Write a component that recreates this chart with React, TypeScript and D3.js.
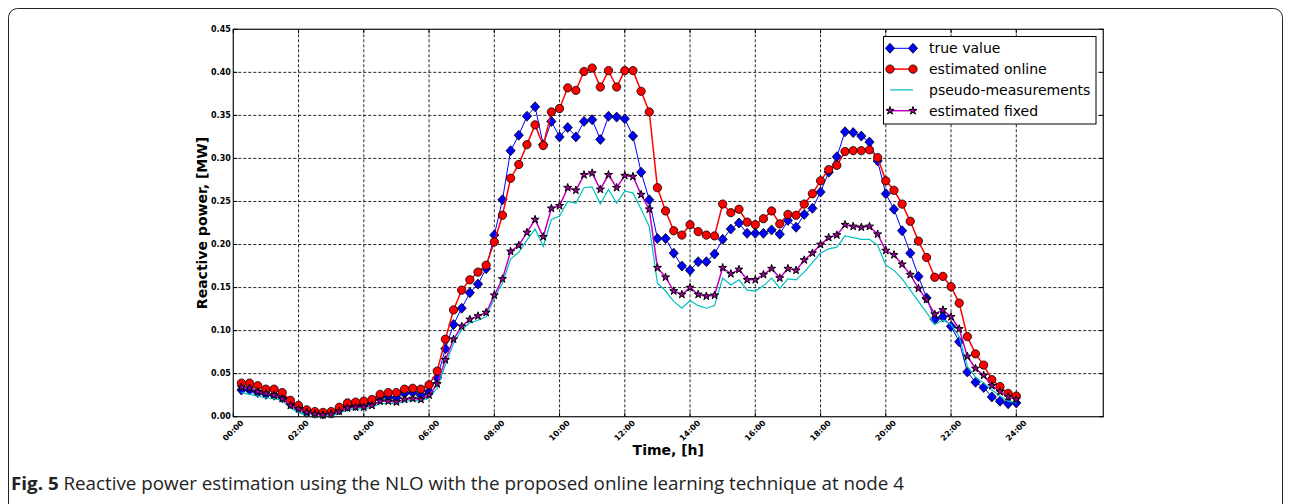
import React from "react";
import * as d3 from "d3";

// reactive power at node 4, one sample every 15 min from 00:15 to 24:00
const trueValue = [
  0.031, 0.031, 0.028, 0.026, 0.025, 0.022, 0.015, 0.010, 0.005, 0.004, 0.003, 0.004,
  0.008, 0.012, 0.013, 0.014, 0.016, 0.023, 0.023, 0.022, 0.027, 0.028, 0.025, 0.029,
  0.045, 0.079, 0.107, 0.126, 0.144, 0.154, 0.172, 0.211, 0.252, 0.309, 0.327, 0.349,
  0.360, 0.316, 0.343, 0.325, 0.336, 0.325, 0.343, 0.345, 0.322, 0.349, 0.348, 0.346,
  0.326, 0.284, 0.252, 0.207, 0.207, 0.190, 0.175, 0.170, 0.180, 0.180, 0.189, 0.206,
  0.218, 0.225, 0.213, 0.213, 0.213, 0.217, 0.212, 0.228, 0.220, 0.235, 0.242, 0.261,
  0.284, 0.302, 0.331, 0.330, 0.326, 0.319, 0.297, 0.259, 0.241, 0.216, 0.190, 0.163,
  0.138, 0.113, 0.116, 0.105, 0.087, 0.052, 0.040, 0.034, 0.023, 0.018, 0.015, 0.016,
];
const estimatedOnline = [
  0.039, 0.039, 0.036, 0.032, 0.032, 0.028, 0.019, 0.013, 0.008, 0.006, 0.005, 0.006,
  0.011, 0.016, 0.017, 0.018, 0.020, 0.026, 0.028, 0.028, 0.032, 0.033, 0.032, 0.037,
  0.053, 0.090, 0.124, 0.147, 0.159, 0.168, 0.176, 0.203, 0.234, 0.277, 0.293, 0.316,
  0.339, 0.315, 0.354, 0.358, 0.382, 0.379, 0.401, 0.405, 0.383, 0.402, 0.383, 0.402,
  0.402, 0.378, 0.354, 0.266, 0.239, 0.216, 0.211, 0.223, 0.215, 0.211, 0.210, 0.247,
  0.237, 0.241, 0.226, 0.223, 0.230, 0.239, 0.224, 0.235, 0.234, 0.247, 0.259, 0.274,
  0.287, 0.292, 0.308, 0.309, 0.309, 0.310, 0.301, 0.274, 0.263, 0.247, 0.227, 0.204,
  0.185, 0.162, 0.163, 0.151, 0.132, 0.093, 0.073, 0.060, 0.043, 0.035, 0.027, 0.024,
];
const pseudoMeasurements = [
  0.028, 0.026, 0.024, 0.022, 0.021, 0.019, 0.010, 0.005, 0.001, 0.000, 0.000, 0.001,
  0.004, 0.008, 0.009, 0.009, 0.011, 0.015, 0.016, 0.015, 0.018, 0.019, 0.018, 0.022,
  0.033, 0.060, 0.085, 0.101, 0.109, 0.112, 0.116, 0.138, 0.155, 0.183, 0.191, 0.205,
  0.218, 0.198, 0.229, 0.233, 0.250, 0.248, 0.266, 0.267, 0.247, 0.264, 0.248, 0.262,
  0.260, 0.241, 0.221, 0.155, 0.146, 0.134, 0.126, 0.135, 0.129, 0.126, 0.129, 0.161,
  0.153, 0.159, 0.147, 0.146, 0.152, 0.161, 0.149, 0.160, 0.159, 0.168, 0.179, 0.190,
  0.195, 0.197, 0.210, 0.208, 0.206, 0.206, 0.199, 0.176, 0.170, 0.160, 0.147, 0.134,
  0.121, 0.107, 0.112, 0.107, 0.093, 0.058, 0.046, 0.039, 0.031, 0.024, 0.018, 0.016,
];
const estimatedFixed = [
  0.034, 0.033, 0.029, 0.027, 0.025, 0.021, 0.013, 0.009, 0.005, 0.003, 0.002, 0.003,
  0.006, 0.010, 0.011, 0.011, 0.013, 0.018, 0.018, 0.017, 0.020, 0.021, 0.020, 0.025,
  0.038, 0.066, 0.090, 0.105, 0.113, 0.117, 0.121, 0.141, 0.160, 0.192, 0.199, 0.214,
  0.229, 0.209, 0.242, 0.245, 0.266, 0.263, 0.281, 0.283, 0.264, 0.281, 0.266, 0.280,
  0.279, 0.258, 0.241, 0.173, 0.162, 0.146, 0.142, 0.150, 0.142, 0.140, 0.141, 0.173,
  0.166, 0.171, 0.159, 0.159, 0.165, 0.172, 0.161, 0.172, 0.170, 0.182, 0.190, 0.200,
  0.208, 0.211, 0.223, 0.221, 0.220, 0.221, 0.212, 0.193, 0.188, 0.177, 0.165, 0.149,
  0.136, 0.119, 0.124, 0.116, 0.102, 0.070, 0.056, 0.048, 0.036, 0.029, 0.023, 0.020,
];

const xTickHours = [0, 2, 4, 6, 8, 10, 12, 14, 16, 18, 20, 22, 24];
const yTicks = [0, 0.05, 0.1, 0.15, 0.2, 0.25, 0.3, 0.35, 0.4, 0.45];

const W = 1291;
const H = 504;
const plot = { left: 233.3, right: 1103.3, top: 29.3, bottom: 416.7 };

const x = d3.scaleLinear().domain([0, 1600 / 60]).range([plot.left, plot.right]);
const y = d3.scaleLinear().domain([0, 0.45]).range([plot.bottom, plot.top]);
const hourOf = (i: number) => (i + 1) * 0.25;

const tickFont = "'DejaVu Sans', sans-serif";

const diamond = "M0,-5L4.6,0L0,5L-4.6,0Z";
const star = d3.symbol().type(d3.symbolStar).size(20)() as string;
const circle = d3.symbol().type(d3.symbolCircle).size(54)() as string;

type Series = { label: string; values: number[]; color: string; width: number; marker: string | null; fill: string; edge: number };

const series: Series[] = [
  { label: "true value", values: trueValue, color: "#0000ff", width: 1, marker: diamond, fill: "#0000ff", edge: 0.8 },
  { label: "estimated online", values: estimatedOnline, color: "#ff0000", width: 1.5, marker: circle, fill: "#ff0000", edge: 0.8 },
  { label: "pseudo-measurements", values: pseudoMeasurements, color: "#00bfbf", width: 1.2, marker: null, fill: "none", edge: 0 },
  { label: "estimated fixed", values: estimatedFixed, color: "#bf00bf", width: 1.5, marker: star, fill: "#a000a0", edge: 1 },
];

const line = d3.line<number>().x((_, i) => x(hourOf(i))).y((d) => y(d));

const pad = (h: number) => `${String(h).padStart(2, "0")}:00`;

export default function App() {
  return (
    <svg width={W} height={H} style={{ position: "absolute", left: 0, top: 0, background: "#fff" }}>
      <rect x={8.5} y={8.5} width={1274} height={540} rx={9} fill="#fff" stroke="#222" strokeWidth={1} />

      {/* grid */}
      <g stroke="#000" strokeWidth={1} strokeDasharray="3,2" opacity={0.85}>
        {yTicks.slice(1, -1).map((t) => (
          <line key={"gy" + t} x1={plot.left} x2={plot.right} y1={y(t)} y2={y(t)} />
        ))}
        {xTickHours.slice(1).map((h) => (
          <line key={"gx" + h} x1={x(h)} x2={x(h)} y1={plot.top} y2={plot.bottom} />
        ))}
      </g>

      {/* series */}
      {series.map((s) => (
        <g key={s.label}>
          <path d={line(s.values) || ""} fill="none" stroke={s.color} strokeWidth={s.width} />
          {s.marker &&
            s.values.map((v, i) => (
              <path
                key={i}
                d={s.marker!}
                transform={`translate(${x(hourOf(i))},${y(v)})`}
                fill={s.fill}
                stroke="#000"
                strokeWidth={s.edge}
              />
            ))}
        </g>
      ))}

      {/* frame and ticks */}
      <rect
        x={plot.left}
        y={plot.top}
        width={plot.right - plot.left}
        height={plot.bottom - plot.top}
        fill="none"
        stroke="#222"
        strokeWidth={1.3}
      />
      <g stroke="#000" strokeWidth={1}>
        {yTicks.map((t) => (
          <g key={"ty" + t}>
            <line x1={plot.left} x2={plot.left + 4} y1={y(t)} y2={y(t)} />
            <line x1={plot.right} x2={plot.right - 4} y1={y(t)} y2={y(t)} />
          </g>
        ))}
        {xTickHours.map((h) => (
          <g key={"tx" + h}>
            <line x1={x(h)} x2={x(h)} y1={plot.bottom} y2={plot.bottom - 4} />
            <line x1={x(h)} x2={x(h)} y1={plot.top} y2={plot.top + 4} />
          </g>
        ))}
      </g>
      <g fontFamily={tickFont} fontWeight="bold" fontSize={8} fill="#000">
        {yTicks.map((t) => (
          <text key={"ly" + t} x={plot.left - 2.5} y={y(t)} textAnchor="end" dominantBaseline="central">
            {d3.format(".2f")(t)}
          </text>
        ))}
        {xTickHours.map((h) => (
          <text
            key={"lx" + h}
            transform={`translate(${x(h)},${plot.bottom + 14}) rotate(-45)`}
            textAnchor="middle"
            dominantBaseline="central"
          >
            {pad(h)}
          </text>
        ))}
      </g>

      {/* axis titles */}
      <text
        transform={`translate(207,${(plot.top + plot.bottom) / 2}) rotate(-90)`}
        textAnchor="middle"
        fontFamily={tickFont}
        fontWeight="bold"
        fontSize={14}
      >
        Reactive power, [MW]
      </text>
      <text
        x={(plot.left + plot.right) / 2}
        y={455}
        textAnchor="middle"
        fontFamily={tickFont}
        fontWeight="bold"
        fontSize={14}
      >
        Time, [h]
      </text>

      {/* legend */}
      <g>
        <rect x={883.5} y={36.5} width={212.5} height={87.5} fill="#fff" stroke="#000" strokeWidth={1} />
        {series.map((s, i) => {
          const ly = 48.3 + i * 20.8;
          return (
            <g key={"lg" + s.label}>
              <line x1={890} x2={913} y1={ly} y2={ly} stroke={s.color} strokeWidth={s.width} />
              {s.marker &&
                [890, 913].map((mx) => (
                  <path
                    key={mx}
                    d={s.marker!}
                    transform={`translate(${mx},${ly})`}
                    fill={s.fill}
                    stroke="#000"
                    strokeWidth={s.edge}
                  />
                ))}
              <text x={929} y={ly} dominantBaseline="central" fontFamily={tickFont} fontSize={14}>
                {s.label}
              </text>
            </g>
          );
        })}
      </g>

      {/* caption */}
      <text
        x={11}
        y={490}
        fontFamily="'Open Sans', sans-serif"
        fontSize={17.5}
        fill="#222"
        textLength={893}
        lengthAdjust="spacingAndGlyphs"
      >
        <tspan fontWeight="bold">Fig. 5</tspan>
        <tspan> Reactive power estimation using the NLO with the proposed online learning technique at node 4</tspan>
      </text>
    </svg>
  );
}
